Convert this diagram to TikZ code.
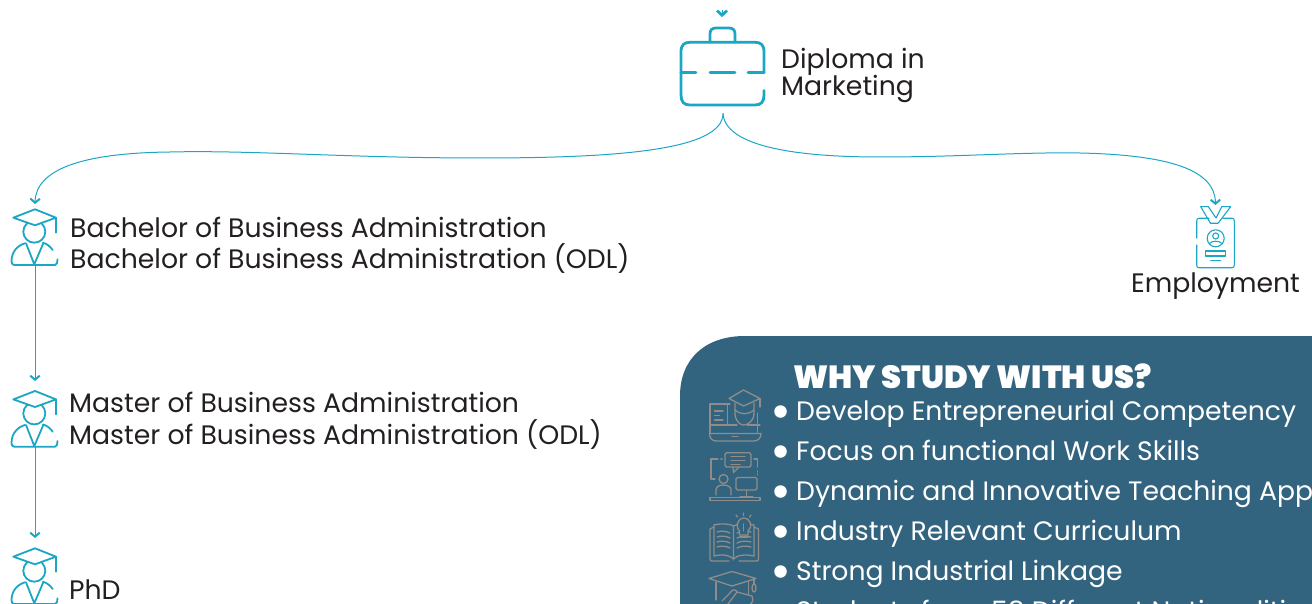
\documentclass[tikz,border=0pt]{standalone}
\usepackage{fontspec}
\setmainfont{Poppins}
\newfontfamily\blackfont{Poppins}[UprightFont=* Black]
\usetikzlibrary{arrows.meta}
\definecolor{teal}{HTML}{1BA6C5}
\definecolor{panel}{HTML}{33647F}
\definecolor{ink}{HTML}{231F20}
\definecolor{iconGrey}{HTML}{8F8C89}
\tikzset{
  x=1pt,y=-1pt,
  conn/.style={draw=teal,line width=1pt,-{Straight Barb[length=4pt,width=9.5pt,line width=2pt]}},
  topconn/.style={draw=teal,line width=1pt,-{Straight Barb[length=4.5pt,width=10pt,line width=2.8pt]}},
  iconline/.style={draw=teal,line width=1.8pt,line cap=round,line join=round},
  thick icon/.style={draw=teal,line width=2.8pt,line cap=round,line join=round},
  grey icon/.style={draw=iconGrey,line width=1.3pt,line cap=round,line join=round},
  iconbox/.style={inner sep=0pt,minimum width=#1,anchor=north},
  label/.style={anchor=base west,inner sep=0pt,text=ink,font=\fontsize{26.7}{27}\selectfont},
  panellabel/.style={anchor=base west,inner sep=0pt,text=white,font=\fontsize{26.65}{27}\selectfont},
  bulletdot/.style={circle,fill=white,inner sep=0pt,minimum size=12.5pt},
  grad/.pic={
    \draw[iconline] (-0.7,22.4) circle[radius=11pt];
    \draw[iconline,fill=white] (-21.7,8.4) -- (0,0) -- (21,8.4) -- (0,16) -- cycle;
    \draw[iconline] (21,8.4) -- (21,23.4);
    \draw[iconline] (-10,34) .. controls (-17,36) and (-23.5,42) .. (-23.5,52) .. controls (-23.5,54.5) and (-22.5,55.7) .. (-20.5,55.7) -- (20,55.7) .. controls (22,55.7) and (22.5,53) .. (22.5,50);
    \draw[iconline] (8,33.5) .. controls (12,34.5) and (15,37) .. (17.7,40.7);
    \draw[iconline] (-9,34) -- (-0.7,55) -- (8.3,34);
  }
}
\begin{document}
\begin{tikzpicture}
\useasboundingbox (0,0) rectangle (1312,604);
\clip (0,0) rectangle (1312,604);

% panel
\fill[panel] (680,620) -- (680,396) .. controls (680,359) and (705,336) .. (745,336) -- (1330,336) -- (1330,620) -- cycle;

% icon holders
\node[iconbox=84,minimum height=78] (brief) at (722,28) {};
\node[iconbox=46,minimum height=56] (bach) at (35,209) {};
\node[iconbox=46,minimum height=56] (mast) at (35,391) {};
\node[iconbox=46,minimum height=56] (phd) at (35,548) {};
\node[iconbox=38,minimum height=61] (badge) at (1215.5,207) {};
\coordinate (topin) at (722,10);

% connectors
\draw[topconn] (topin) -- ++(0,7);
\draw[conn] (brief.south)++(1,7) .. controls (723,150) and (620,158) .. (480,158)
   .. controls (350,158) and (250,150) .. (170,152)
   .. controls (80,153) and (36,170) .. ([yshift=5pt]bach.north);
\draw[conn] (brief.south)++(1,7) .. controls (725,145) and (790,157) .. (880,157)
   .. controls (960,157) and (1020,152) .. (1080,153)
   .. controls (1170,155) and (1215,170) .. ([yshift=2pt]badge.north);
\draw[conn] (bach.south) -- ([yshift=10pt]mast.north);
\draw[conn] (mast.south) -- ([yshift=10pt]phd.north);

% briefcase
\draw[thick icon] (710,42) -- (710,34) .. controls (710,30) and (712,28) .. (716,28) -- (729,28) .. controls (733,28) and (735,30) .. (735,34) -- (735,42);
\draw[thick icon] (764,72.7) -- (764,52) .. controls (764,45) and (761,42.3) .. (755,42.3) -- (690,42.3) .. controls (684,42.3) and (681,45) .. (681,52) -- (681,95) .. controls (681,102) and (684,105) .. (690,105) -- (755,105) .. controls (761,105) and (764,102) .. (764,95) -- (764,90.5);
\draw[thick icon] (681,72.7) -- (696,72.7) (710,72.7) -- (735,72.7) (748,72.7) -- (764,72.7);

% graduates
\pic at (35,209.3) {grad};
\pic at (35,391) {grad};
\pic at (35,548.3) {grad};

% badge
\begin{scope}[iconline,line width=1.1pt]
\draw (1209,218.3) -- (1199,218.3) .. controls (1197.5,218.3) and (1196.7,219) .. (1196.7,221) -- (1196.7,238);
\draw (1196.7,245) -- (1196.7,265) .. controls (1196.7,267) and (1197.5,267.7) .. (1199,267.7) -- (1232,267.7) .. controls (1233.5,267.7) and (1234.3,267) .. (1234.3,265) -- (1234.3,221) .. controls (1234.3,219) and (1233.5,218.3) .. (1232,218.3) -- (1223,218.3);
\draw (1200.7,206.7) -- (1208.3,206.7) -- (1216,218) -- (1221.7,206.7) -- (1230.7,206.7) -- (1218,223.3) -- (1210.5,223.3);
\draw (1200.7,206.7) -- (1210.5,223.3);
\draw (1215.7,238.3) circle[radius=8.5pt];
\draw (1215.7,236) circle[radius=3pt];
\draw (1209.5,243.5) .. controls (1211,240.5) and (1220,240.5) .. (1222,243.5);
\draw (1205.7,251) rectangle (1225.7,256);
\draw (1210.7,260.7) -- (1220.7,260.7);
\end{scope}

% labels
\node[label] (t1) at (781,69) {Diploma in};
\node[label] (t2) at (781,96) {Marketing};
\node[label] (t3) at (70,237) {Bachelor of Business Administration};
\node[label] (t4) at (70,269) {Bachelor of Business Administration (ODL)};
\node[label] (t5) at (69,412.5) {Master of Business Administration};
\node[label] (t6) at (69,444.5) {Master of Business Administration (ODL)};
\node[label] (t7) at (69,599) {PhD};
\node[label,anchor=base] (t8) at (1215.5,292) {Employment};

% panel text
\node[anchor=base west,inner sep=0pt,text=white,font=\blackfont\fontsize{32}{32}\selectfont] (title) at (793,388) {WHY STUDY WITH US?};
\foreach \yy/\tx/\nm in {420/Develop Entrepreneurial Competency/a,460/Focus on functional Work Skills/b,500/Dynamic and Innovative Teaching Approaches/c,540/Industry Relevant Curriculum/d,580/Strong Industrial Linkage/e,620/Students from 58 Different Nationalities/f}{
  \node[panellabel] (p\nm) at (796,\yy) {\tx};
  \node[bulletdot] (b\nm) at (780.5,\yy-8.5) {};
}

% panel icons
\begin{scope}[grey icon]
% laptop
\draw (709.5,433.5) -- (761,433.5) .. controls (761,438) and (758,441) .. (754,441) -- (716,441) .. controls (712,441) and (709.5,438) .. (709.5,433.5);
\draw (732,436.7) -- (738,436.7);
\draw (710,433.5) -- (710,404) -- (730,404);
\draw (727.5,404) -- (727.5,425);
\draw (710,425) -- (737,425) (747,425) -- (760,425);
\draw (757.5,413) -- (757.5,433.5);
\draw (714.5,411) -- (723,411) (714.5,415.5) -- (719.5,415.5) (714.5,420) -- (723,420);
\draw (729,398.5) -- (743.5,390) -- (760,398.5) -- (743.5,406) -- cycle;
\draw (735,403) -- (735,413) .. controls (735,421) and (740,425) .. (743.5,425) .. controls (748,425) and (754,421) .. (754,413) -- (754,403);
\draw (735,410) .. controls (741,415) and (748,415) .. (754,410);
\draw (760,398.5) -- (760,407);
% desk person
\draw[rounded corners=2pt] (725,452.7) rectangle (751,467);
\draw (731,456.7) -- (745,456.7) (731,460.7) -- (745,460.7) (731,464.3) -- (740,464.3);
\draw (733,467) -- (733.5,472.5) -- (739,467);
\draw (718,459) -- (711,459) -- (711,479) -- (715,479);
\draw (721,459) -- (722,459) (754,459) -- (757.5,459) -- (757.5,467);
\draw (757.5,471) -- (757.5,472) (757.5,474) -- (757.5,475);
\draw (723.5,479) circle[radius=4.5pt];
\draw (716,495) -- (716,490) .. controls (716,487) and (719,485) .. (723,485) .. controls (728,485) and (731,487) .. (731,490) -- (731,495);
\draw[rounded corners=1.5pt] (736,477.5) rectangle (757,490);
\draw (746.5,490) -- (746.5,497);
\draw (740,497) -- (753,497);
\draw (710,497.5) -- (760,497.5) (710,497.5) -- (710,500.5) -- (760,500.5) -- (760,497.5);
% open book with bulb
\draw (733.5,560) -- (733.5,526) .. controls (730,524) and (722,523) .. (714,525);
\draw (714,525) -- (714,556) .. controls (722,554) and (730,555) .. (733.5,559);
\draw (733.5,526) .. controls (735,525) and (738,524.5) .. (740,524.5);
\draw (733.5,559) .. controls (737,555) and (745,554) .. (754,556) -- (754,525) -- (750,524.5);
\draw (714,527) -- (710,529) -- (710,559) .. controls (710,560.5) and (711,561) .. (712,561) -- (729,561);
\draw (754,527) -- (758.5,529) -- (758.5,559) .. controls (758.5,560.5) and (757.5,561) .. (756.5,561) -- (739,561);
\foreach \ly in {532,537,542,547}{
  \draw (717,\ly) .. controls (721,\ly-1.5) and (726,\ly-1) .. (730,\ly+1);
  \draw (737,\ly+1) .. controls (741,\ly-1) and (746,\ly-1.5) .. (751,\ly);
}
\draw[fill=panel] (739.5,535) -- (739.5,531) .. controls (736,528) and (736,520) .. (743,518) .. controls (751,518) and (753,527) .. (748,531) -- (748,535) -- cycle;
\draw (740,537.5) -- (748,537.5);
\draw (743.5,513) -- (743.5,515.5) (736,515) -- (737.5,517) (751,515) -- (749.5,517);
\draw (743.7,524) -- (743.7,531);
% cap with diploma
\draw (709,578.5) -- (732,571.5) -- (756,578.5) -- (732,586) -- cycle;
\draw (716,582) -- (716,600) (748.5,582) -- (748.5,594);
\draw (754,579) -- (754,584);
\draw (754,588) ellipse[x radius=2pt,y radius=4pt];
\draw (730,593) .. controls (732,589) and (736,589) .. (737,592) -- (752,596) .. controls (754,600) and (752,604) .. (749,605);
\draw (730,593) -- (722,601) (737,592) -- (728,604);
\end{scope}
\end{tikzpicture}
\end{document}
